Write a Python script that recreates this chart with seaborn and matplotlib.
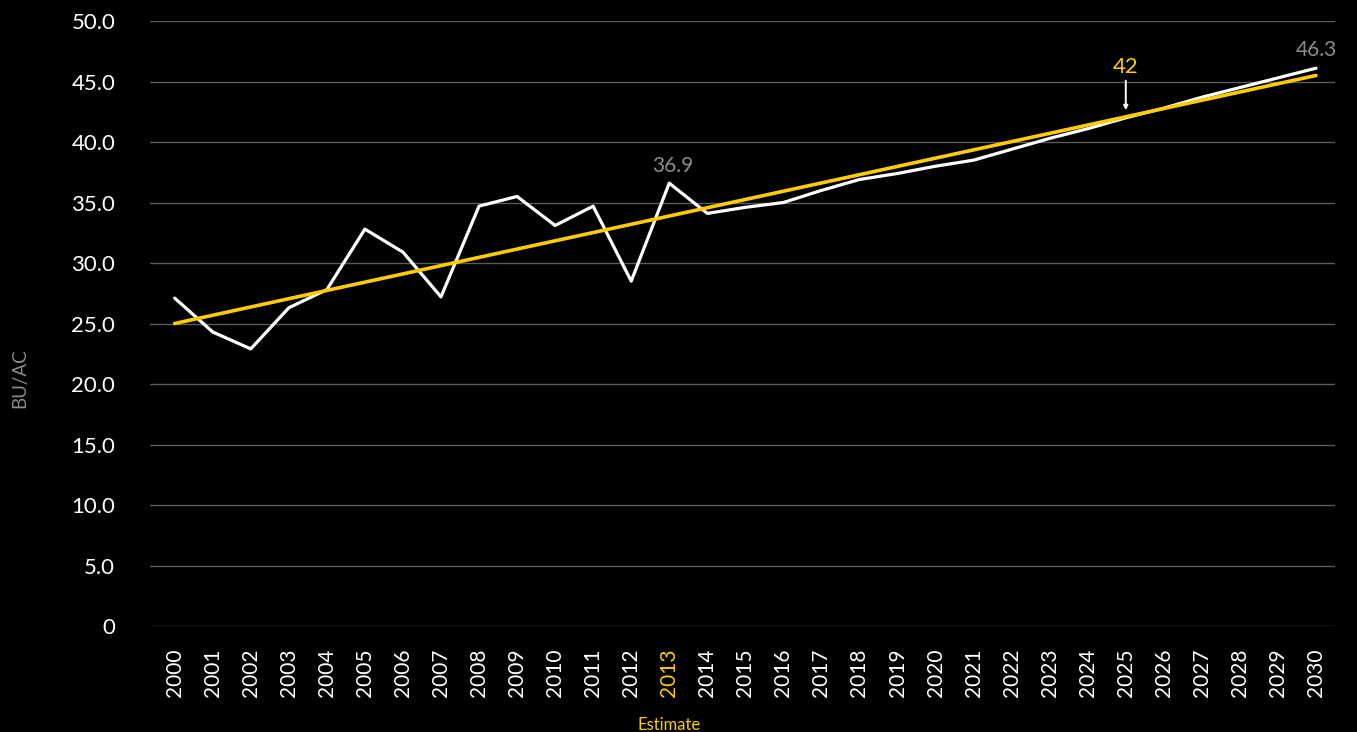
import matplotlib
matplotlib.use('Agg')
import matplotlib.pyplot as plt
import seaborn as sb
import pandas as pd


years = list(range(2000, 2031))
yields = [27.1, 24.3, 22.9, 26.3, 27.8, 32.8, 30.9, 27.2, 34.7, 35.5,
          33.1, 34.7, 28.5, 36.6, 34.1, 34.6, 35.0, 36.0, 36.9, 37.4,
          38.0, 38.5, 39.4, 40.3, 41.1, 42.0, 42.8, 43.7, 44.5, 45.3, 46.1]
trend_years = [2000, 2030]
trend_vals = [25.0, 45.5]
y_ticks = [0, 5, 10, 15, 20, 25, 30, 35, 40, 45, 50]
y_tick_labels = ['0'] + [f'{v:.1f}' for v in y_ticks[1:]]

yellow = '#ffcc00'
grey_txt = '#8c8c8c'

df = pd.DataFrame({'year': years, 'yield': yields})
df_trend = pd.DataFrame({'year': trend_years, 'yield': trend_vals})

sb.set_style('dark', {'axes.facecolor': 'black', 'figure.facecolor': 'black',
                      'axes.grid': True, 'grid.color': '#555555'})
plt.rcParams['font.family'] = ['Lato', 'DejaVu Sans']

fig = plt.figure(figsize=(13.57, 7.32), dpi=100)
ax = fig.add_axes([0.1105, 0.1448, 0.8733, 0.8265])
ax.set_facecolor('black')

sb.lineplot(data=df, x='year', y='yield', color='white', linewidth=2.3, ax=ax)
sb.lineplot(data=df_trend, x='year', y='yield', color=yellow, linewidth=2.6, ax=ax)

ax.set_xlim(1999.35, 2030.5)
ax.set_ylim(0, 50)
ax.set_yticks(y_ticks)
ax.set_yticklabels(y_tick_labels, color='white', fontsize=16)
ax.set_xticks(years)
ax.set_xticklabels([str(y) for y in years], rotation=90, color='white', fontsize=15)
for lbl in ax.get_xticklabels():
    if lbl.get_text() == '2013':
        lbl.set_color(yellow)
ax.tick_params(axis='x', length=0, pad=16)
ax.tick_params(axis='y', length=0, pad=25)
ax.grid(axis='y', color='#5a5a5a', linewidth=1)
ax.grid(axis='x', visible=False)
for s in ax.spines.values():
    s.set_visible(False)

ax.set_xlabel('')
ax.set_ylabel('BU/AC', color=grey_txt, fontsize=13.5)
ax.yaxis.set_label_coords(-0.1025, 0.41)

ax.text(2013.1, 36.9 + 0.3, '36.9', color=grey_txt, fontsize=15, ha='center', va='bottom')
ax.text(2030, 46.3 + 0.5, '46.3', color=grey_txt, fontsize=15, ha='center', va='bottom')
ax.annotate('', xy=(2025, 42.4), xytext=(2025, 45.3),
            arrowprops=dict(arrowstyle='-|>', color='white', lw=1.4, mutation_scale=6))
ax.text(2025, 45.4, '42', color=yellow, fontsize=16, ha='center', va='bottom')
ax.text(2013, -0.163, 'Estimate', color=yellow, fontsize=12, ha='center', va='center',
        transform=ax.get_xaxis_transform())

fig.savefig('out.png', dpi=100, facecolor='black')
